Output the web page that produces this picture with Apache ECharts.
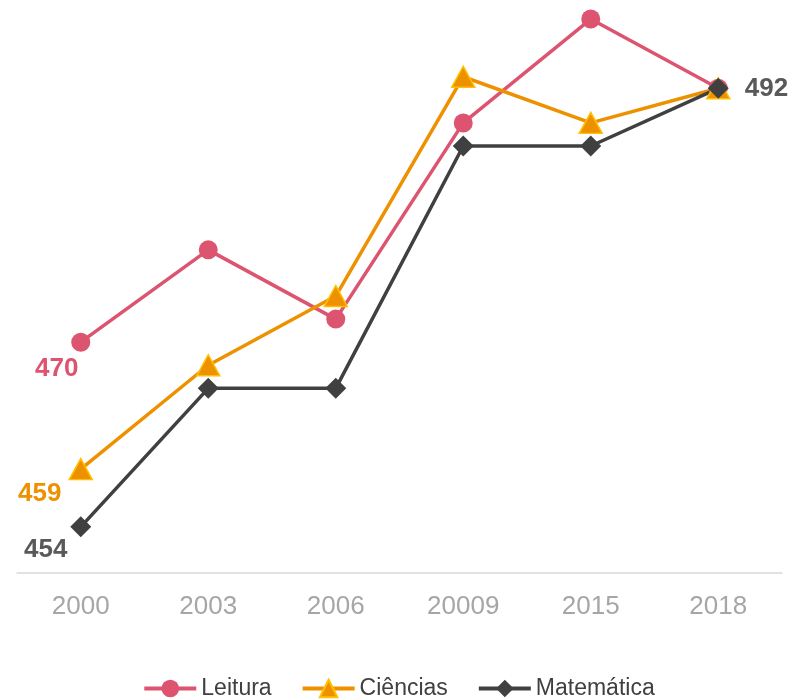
<!DOCTYPE html>
<html><head><meta charset="utf-8">
<script src="https://cdn.jsdelivr.net/npm/echarts@6/dist/echarts.min.js"></script>
<style>html,body{margin:0;padding:0;background:#fff}#c{width:797px;height:700px}</style>
</head><body><div id="c"></div>
<script>
const categories = ['2000', '2003', '2006', '20009', '2015', '2018'];
const leitura = [470, 478, 472, 489, 498, 492];
const ciencias = [459, 468, 474, 493, 489, 492];
const matematica = [454, 466, 466, 487, 487, 492];

const font = 'Liberation Sans, Arial, sans-serif';
const chart = echarts.init(document.getElementById('c'), null, {renderer: 'canvas'});

function firstOnly(p) { return p.dataIndex === 0 ? p.value : ''; }

chart.setOption({
  animation: false,
  grid: {left: 17, right: 15, top: 7.5, bottom: 127, containLabel: false},
  xAxis: {
    type: 'category', data: categories, boundaryGap: true,
    axisLine: {lineStyle: {color: '#d9d9d9', width: 1.5}},
    axisTick: {show: false},
    axisLabel: {color: '#a6a6a6', fontSize: 26, fontFamily: font, margin: 21}
  },
  yAxis: {type: 'value', min: 450, max: 499, show: false, splitLine: {show: false}},
  legend: {
    bottom: -5, left: 'center', itemWidth: 52, itemHeight: 22, itemGap: 29,
    lineStyle: {width: 4},
    textStyle: {fontSize: 23, color: '#404040', fontFamily: font},
    data: ['Leitura', 'Ciências', 'Matemática']
  },
  series: [
    {
      name: 'Leitura', type: 'line', data: leitura,
      symbol: 'circle', symbolSize: 19,
      lineStyle: {color: '#dc546f', width: 3.5},
      itemStyle: {color: '#dc546f'},
      label: {show: true, position: 'bottom', offset: [-24, -1], formatter: firstOnly,
        color: '#dc546f', fontSize: 26, fontWeight: 'bold', fontFamily: font}
    },
    {
      name: 'Ciências', type: 'line', data: ciencias,
      symbol: 'triangle', symbolSize: [23, 21],
      lineStyle: {color: '#ee9100', width: 3.5},
      itemStyle: {color: '#ee9100', borderColor: '#ffc000', borderWidth: 1.5},
      label: {show: true, position: 'bottom', offset: [-41, -5], formatter: firstOnly,
        color: '#ee9100', fontSize: 26, fontWeight: 'bold', fontFamily: font}
    },
    {
      name: 'Matemática', type: 'line',
      data: matematica.map(function (v, i) {
        if (i === 0) return {value: v, label: {show: true, position: 'bottom', offset: [-35, -6]}};
        if (i === matematica.length - 1) return {value: v, label: {show: true, position: 'right', distance: 16, offset: [0, 1]}};
        return v;
      }),
      symbol: 'diamond', symbolSize: 21,
      lineStyle: {color: '#404040', width: 3.5},
      itemStyle: {color: '#404040'},
      label: {show: false, color: '#595959', fontSize: 26, fontWeight: 'bold', fontFamily: font}
    }
  ]
});
</script></body></html>
